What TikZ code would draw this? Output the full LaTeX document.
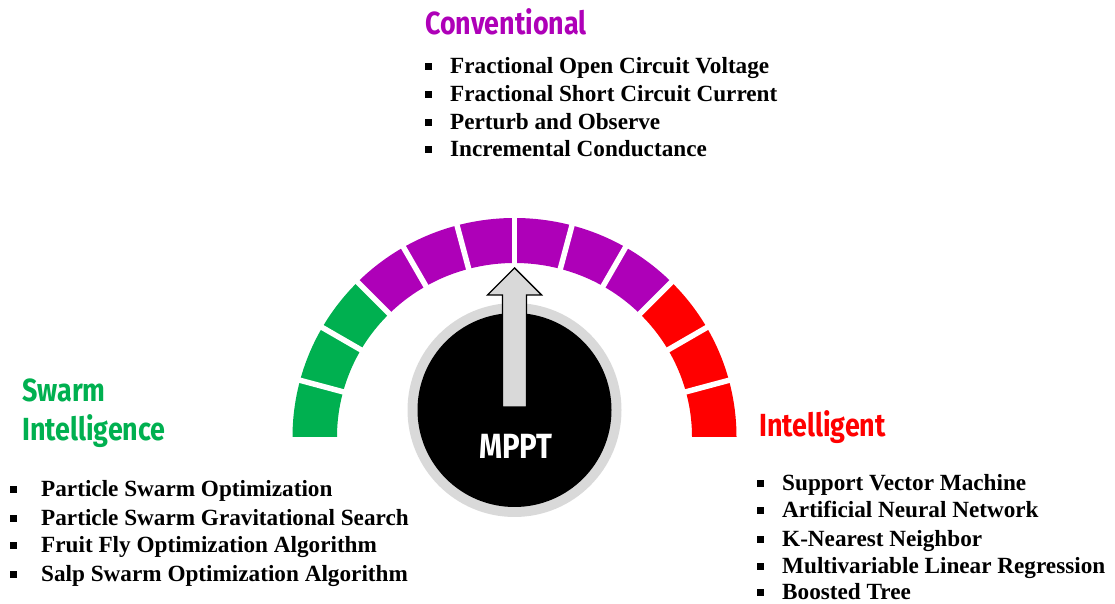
\documentclass[tikz,border=0pt]{standalone}
\usepackage{fontspec}
\setmainfont{Liberation Serif}
\newfontfamily\headfont{Fira Sans}[FakeStretch=0.84]
\usetikzlibrary{calc}

\definecolor{swarmgreen}{HTML}{00B050}
\definecolor{convpurple}{HTML}{AE00B8}
\definecolor{intred}{HTML}{FF0000}
\definecolor{ringgray}{HTML}{D9D9D9}

% list bullet: small square, then the item text
\newcommand{\itemsq}[1]{\makebox[#1][l]{\rule[3.6pt]{6.5pt}{7pt}}}

\tikzset{
  head/.style={anchor=base west, inner sep=0pt, font=\headfont\bfseries\fontsize{32}{36}\selectfont},
  listitem/.style={anchor=base west, inner sep=0pt, font=\bfseries\fontsize{23.2}{27}\selectfont},
  gapline/.style={white, line width=5.5pt},
}

\begin{document}
\begin{tikzpicture}[x=1pt, y=1pt]
\useasboundingbox (0,0) rectangle (1115,604);

% ---- gauge dial ----
\coordinate (C) at (514.5,167);
\def\ro{222}\def\rov{219}\def\ri{177.5}\def\riv{174}

\fill[swarmgreen] ($(C)+(180:\ro pt and \rov pt)$)
  arc[start angle=180, end angle=135, x radius=\ro pt, y radius=\rov pt]
  -- ($(C)+(135:\ri pt and \riv pt)$)
  arc[start angle=135, end angle=180, x radius=\ri pt, y radius=\riv pt] -- cycle;
\fill[convpurple] ($(C)+(135:\ro pt and \rov pt)$)
  arc[start angle=135, end angle=45, x radius=\ro pt, y radius=\rov pt]
  -- ($(C)+(45:\ri pt and \riv pt)$)
  arc[start angle=45, end angle=135, x radius=\ri pt, y radius=\riv pt] -- cycle;
\fill[intred] ($(C)+(45:\ro pt and \rov pt)$)
  arc[start angle=45, end angle=0, x radius=\ro pt, y radius=\rov pt]
  -- ($(C)+(0:\ri pt and \riv pt)$)
  arc[start angle=0, end angle=45, x radius=\ri pt, y radius=\riv pt] -- cycle;

% white gaps between the twelve segments
\foreach \a in {15,30,...,165}
  \draw[gapline] ($(C)+(\a:170pt and 167pt)$) -- ($(C)+(\a:230pt and 227pt)$);

% ---- knob ----
\coordinate (K) at (514.5,194);
\fill[ringgray] (K) circle[radius=107pt];
\fill[black] (K) circle[radius=97pt];

% pointer arrow
\filldraw[fill=ringgray, draw=black, line width=1.4pt, line join=miter]
  (502.5,197) -- (502.5,309) -- (487.5,309) -- (514.5,336)
  -- (541.5,309) -- (526.5,309) -- (526.5,197) -- cycle;

\node[anchor=base, inner sep=0pt, text=white,
      font=\headfont\bfseries\fontsize{35}{38}\selectfont] (mppt) at (516,145) {MPPT};

% ---- conventional ----
\node[head, text=convpurple] (conv) at (425,569) {Conventional};
\node[listitem] (c1) at (425,530) {\itemsq{25pt}Fractional Open Circuit Voltage};
\node[listitem] (c2) at (425,502) {\itemsq{25pt}Fractional Short Circuit Current};
\node[listitem] (c3) at (425,474) {\itemsq{25pt}Perturb and Observe};
\node[listitem] (c4) at (425,447) {\itemsq{25pt}Incremental Conductance};

% ---- swarm intelligence ----
\node[head, text=swarmgreen] (sw1) at (22,202) {Swarm};
\node[head, text=swarmgreen] (sw2) at (22,163) {Intelligence};
\node[listitem] (s1) at (10,107) {\itemsq{31pt}Particle Swarm Optimization};
\node[listitem] (s2) at (10,78) {\itemsq{31pt}Particle Swarm Gravitational Search};
\node[listitem] (s3) at (10,51) {\itemsq{31pt}Fruit Fly Optimization Algorithm};
\node[listitem] (s4) at (10,22) {\itemsq{31pt}Salp Swarm Optimization Algorithm};

% ---- intelligent ----
\node[head, text=intred] (intl) at (759,167) {Intelligent};
\node[listitem] (i1) at (757,113) {\itemsq{25pt}Support Vector Machine};
\node[listitem] (i2) at (757,86) {\itemsq{25pt}Artificial Neural Network};
\node[listitem] (i3) at (757,57) {\itemsq{25pt}K-Nearest Neighbor};
\node[listitem] (i4) at (757,30) {\itemsq{25pt}Multivariable Linear Regression};
\node[listitem] (i5) at (757,4.5) {\itemsq{25pt}Boosted Tree};
\end{tikzpicture}
\end{document}
